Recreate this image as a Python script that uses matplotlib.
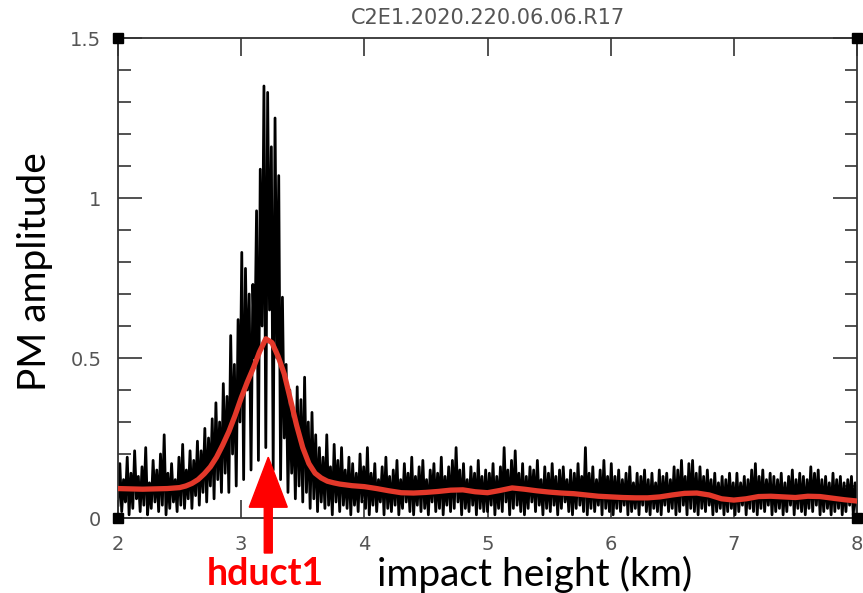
import numpy as np
import matplotlib
matplotlib.use("Agg")
import matplotlib.pyplot as plt
from matplotlib.patches import FancyArrow

# ---------------- data ----------------
title = "C2E1.2020.220.06.06.R17"
x_label = "impact height (km)"
y_label = "PM amplitude"
annot_label = "hduct1"
annot_x = 3.22
annot_y = 0.19

x_range = (2.0, 8.0)
y_range = (0.0, 1.5)
x_ticks = [2, 3, 4, 5, 6, 7, 8]
x_tick_labels = ["2", "3", "4", "5", "6", "7", "8"]
y_ticks = [0, 0.5, 1.0, 1.5]
y_tick_labels = ["0", "0.5", "1", "1.5"]

# black raw trace: local maxima (at 2.015 + 0.03k) and local minima (at 2.0 + 0.03k)
trace_step = 0.03
trace_peaks = [
    # 2.0 - 2.6
    0.17, 0.12, 0.19, 0.14, 0.21, 0.13, 0.16, 0.22, 0.11, 0.18,
    0.15, 0.20, 0.26, 0.14, 0.17, 0.12, 0.19, 0.23, 0.15, 0.21,
    # 2.6 - 2.9
    0.18, 0.24, 0.21, 0.28, 0.25, 0.31, 0.36, 0.30, 0.42, 0.38,
    # 2.9 - 3.2
    0.57, 0.48, 0.62, 0.83, 0.78, 0.70, 0.73, 0.96, 1.09, 1.35,
    # 3.2 - 3.5
    1.33, 1.16, 1.25, 1.07, 0.69, 0.48, 0.40, 0.34, 0.41, 0.37,
    # 3.5 - 4.0
    0.44, 0.30, 0.33, 0.26, 0.22, 0.19, 0.26, 0.16, 0.23, 0.18,
    0.22, 0.15, 0.19, 0.17, 0.14, 0.20, 0.16,
    # 4.0 - 5.0
    0.22, 0.14, 0.17, 0.12, 0.16, 0.19, 0.13, 0.15, 0.18, 0.12,
    0.17, 0.14, 0.19, 0.13, 0.16, 0.18, 0.12, 0.15, 0.17, 0.14,
    0.19, 0.13, 0.16, 0.18, 0.22, 0.15, 0.17, 0.12, 0.16, 0.14,
    0.18, 0.13, 0.15,
    # 5.0 - 6.0
    0.14, 0.17, 0.13, 0.16, 0.22, 0.15, 0.18, 0.21, 0.14, 0.17,
    0.13, 0.16, 0.15, 0.18, 0.12, 0.16, 0.14, 0.17, 0.13, 0.15,
    0.16, 0.12, 0.15, 0.14, 0.17, 0.13, 0.22, 0.14, 0.16, 0.12,
    0.15, 0.18, 0.13,
    # 6.0 - 7.0
    0.17, 0.13, 0.15, 0.12, 0.14, 0.16, 0.11, 0.14, 0.13, 0.15,
    0.12, 0.14, 0.11, 0.15, 0.13, 0.14, 0.12, 0.16, 0.15, 0.18,
    0.13, 0.17, 0.18, 0.14, 0.16, 0.13, 0.15, 0.12, 0.14, 0.11,
    0.13, 0.12, 0.14, 0.11,
    # 7.0 - 8.0
    0.14, 0.11, 0.13, 0.12, 0.15, 0.17, 0.13, 0.15, 0.12, 0.14,
    0.13, 0.12, 0.14, 0.11, 0.13, 0.15, 0.12, 0.14, 0.13, 0.12,
    0.16, 0.14, 0.15, 0.12, 0.13, 0.11, 0.14, 0.12, 0.13, 0.11,
    0.12, 0.13, 0.11,
]
trace_troughs = [
    # 2.0 - 2.6
    0.04, 0.02, 0.05, 0.01, 0.03, 0.06, 0.02, 0.04, 0.01, 0.03,
    0.05, 0.02, 0.04, 0.01, 0.03, 0.05, 0.02, 0.04, 0.03, 0.06,
    # 2.6 - 2.9
    0.03, 0.07, 0.04, 0.08, 0.05, 0.10, 0.06, 0.12, 0.08, 0.14,
    # 2.9 - 3.2
    0.08, 0.20, 0.10, 0.30, 0.12, 0.40, 0.15, 0.50, 0.18, 0.60,
    # 3.2 - 3.5
    0.22, 0.65, 0.15, 0.50, 0.12, 0.25, 0.08, 0.14, 0.06, 0.10,
    # 3.5 - 4.0
    0.05, 0.08, 0.03, 0.06, 0.02, 0.05, 0.03, 0.04, 0.01, 0.05,
    0.02, 0.04, 0.03, 0.01, 0.04, 0.02, 0.05,
    # 4.0 - 5.0
    0.03, 0.01, 0.04, 0.02, 0.05, 0.01, 0.03, 0.02, 0.04, 0.01,
    0.03, 0.05, 0.02, 0.01, 0.04, 0.02, 0.03, 0.01, 0.05, 0.02,
    0.03, 0.01, 0.04, 0.02, 0.03, 0.05, 0.01, 0.03, 0.02, 0.04,
    0.01, 0.03, 0.02,
    # 5.0 - 6.0
    0.02, 0.04, 0.01, 0.03, 0.02, 0.05, 0.01, 0.03, 0.04, 0.02,
    0.01, 0.03, 0.05, 0.02, 0.04, 0.01, 0.03, 0.02, 0.04, 0.01,
    0.03, 0.05, 0.02, 0.01, 0.03, 0.04, 0.02, 0.01, 0.03, 0.02,
    0.04, 0.01, 0.03, 0.02,
    # 6.0 - 7.0
    0.01, 0.03, 0.02, 0.04, 0.01, 0.02, 0.03, 0.01, 0.04, 0.02,
    0.01, 0.03, 0.02, 0.01, 0.04, 0.02, 0.03, 0.01, 0.02, 0.04,
    0.01, 0.03, 0.02, 0.01, 0.03, 0.02, 0.04, 0.01, 0.02, 0.03,
    0.01, 0.02, 0.03,
    # 7.0 - 8.0
    0.01, 0.02, 0.04, 0.01, 0.03, 0.02, 0.01, 0.03, 0.02, 0.04,
    0.01, 0.02, 0.03, 0.01, 0.02, 0.04, 0.01, 0.03, 0.02, 0.01,
    0.03, 0.02, 0.04, 0.01, 0.02, 0.03, 0.01, 0.02, 0.03, 0.01,
    0.02, 0.04, 0.01, 0.02,
]

# red smoothed curve
smooth_x = [2.0, 2.2, 2.4, 2.5, 2.55, 2.6, 2.65, 2.7, 2.75, 2.8, 2.85, 2.9,
            2.95, 3.0, 3.05, 3.1, 3.15, 3.2, 3.25, 3.3, 3.35, 3.4, 3.45,
            3.5, 3.55, 3.6, 3.65, 3.7, 3.75, 3.8, 3.9, 4.0, 4.1, 4.2, 4.3,
            4.4, 4.5, 4.6, 4.7, 4.8, 4.9, 5.0, 5.1, 5.2, 5.3, 5.4, 5.5,
            5.6, 5.7, 5.8, 5.9, 6.0, 6.1, 6.2, 6.3, 6.4, 6.5, 6.6, 6.7,
            6.8, 6.9, 7.0, 7.1, 7.2, 7.3, 7.4, 7.5, 7.6, 7.7, 7.8, 7.9, 8.0]
smooth_y = [0.092, 0.090, 0.092, 0.095, 0.100, 0.108, 0.120, 0.138, 0.160,
            0.190, 0.228, 0.270, 0.320, 0.375, 0.425, 0.470, 0.520, 0.560,
            0.548, 0.505, 0.450, 0.370, 0.290, 0.220, 0.170, 0.140, 0.125,
            0.115, 0.110, 0.106, 0.101, 0.098, 0.092, 0.085, 0.079, 0.078,
            0.080, 0.083, 0.087, 0.088, 0.082, 0.079, 0.086, 0.094, 0.090,
            0.085, 0.081, 0.078, 0.076, 0.072, 0.068, 0.066, 0.064, 0.063,
            0.063, 0.066, 0.072, 0.077, 0.078, 0.072, 0.060, 0.056, 0.060,
            0.067, 0.068, 0.066, 0.064, 0.068, 0.067, 0.062, 0.057, 0.053]

# ---------------- figure ----------------
W, H, DPI = 863, 593, 100
fig = plt.figure(figsize=(W / DPI, H / DPI), dpi=DPI)
ax = fig.add_axes([118 / W, 1 - 518 / H, (857 - 118) / W, (518 - 38) / H])

# interleave troughs and peaks into one zigzag trace
n_t = len(trace_troughs)
n_p = len(trace_peaks)
tx = x_range[0] + trace_step * np.arange(n_t)
px = x_range[0] + trace_step / 2 + trace_step * np.arange(n_p)
xs = np.empty(n_t + n_p)
ys = np.empty(n_t + n_p)
xs[0::2] = tx
ys[0::2] = trace_troughs
xs[1::2] = px
ys[1::2] = trace_peaks

ax.plot(xs, ys, color="black", lw=2.0, zorder=2)
ax.plot(smooth_x, smooth_y, color="#e3382a", lw=3.8, solid_capstyle="round",
        zorder=3)

ax.set_xlim(*x_range)
ax.set_ylim(*y_range)

tick_color = "#555555"
ax.set_xticks(x_ticks)
ax.set_xticklabels(x_tick_labels)
ax.set_yticks(y_ticks)
ax.set_yticklabels(y_tick_labels)
ax.set_yticks(np.arange(0, 1.51, 0.1), minor=True)
ax.tick_params(axis="x", which="major", direction="in", length=13, width=1.2,
               top=True, bottom=True, pad=12, labelsize=14,
               labelcolor=tick_color, color="#333333")
ax.tick_params(axis="y", which="major", direction="in", length=17, width=1.2,
               left=True, right=True, pad=12, labelsize=14,
               labelcolor=tick_color, color="#333333")
ax.tick_params(axis="y", which="minor", direction="in", length=9, width=1.2,
               left=True, right=True, color="#333333")
for s in ax.spines.values():
    s.set_color("#333333")
    s.set_linewidth(1.3)

# corner squares
for cx, cy in [(0, 0), (1, 0), (0, 1), (1, 1)]:
    ax.plot([cx], [cy], marker="s", ms=7.5, color="black",
            transform=ax.transAxes, clip_on=False, zorder=5)

ax.set_title(title, fontsize=15, color="#555555", pad=10,
             family="DejaVu Sans")

# large labels
big_font = "Lato"
fig.text(35 / W, 1 - 272 / H, y_label, rotation=90, ha="center", va="center",
         fontsize=28, family=big_font, color="black")
fig.text(535 / W, 1 - 574 / H, x_label, ha="center", va="center",
         fontsize=28, family=big_font, color="black")
fig.text(265 / W, 1 - 574 / H, annot_label, ha="center", va="center",
         fontsize=27, family=big_font, fontweight="bold", color="#ff0000")

# red arrow (drawn in inches)
arrow_x_px = 118 + (annot_x - x_range[0]) / (x_range[1] - x_range[0]) * (857 - 118)
tip_px = 518 - annot_y / (y_range[1] - y_range[0]) * (518 - 38)
base_px = 553
arr = FancyArrow(arrow_x_px / DPI, (H - base_px) / DPI, 0,
                 (base_px - tip_px) / DPI, width=0.08, head_width=0.38,
                 head_length=0.50, length_includes_head=True,
                 color="#ff0000", transform=fig.dpi_scale_trans,
                 zorder=10)
fig.patches.append(arr)

fig.savefig("out.png", dpi=DPI)
